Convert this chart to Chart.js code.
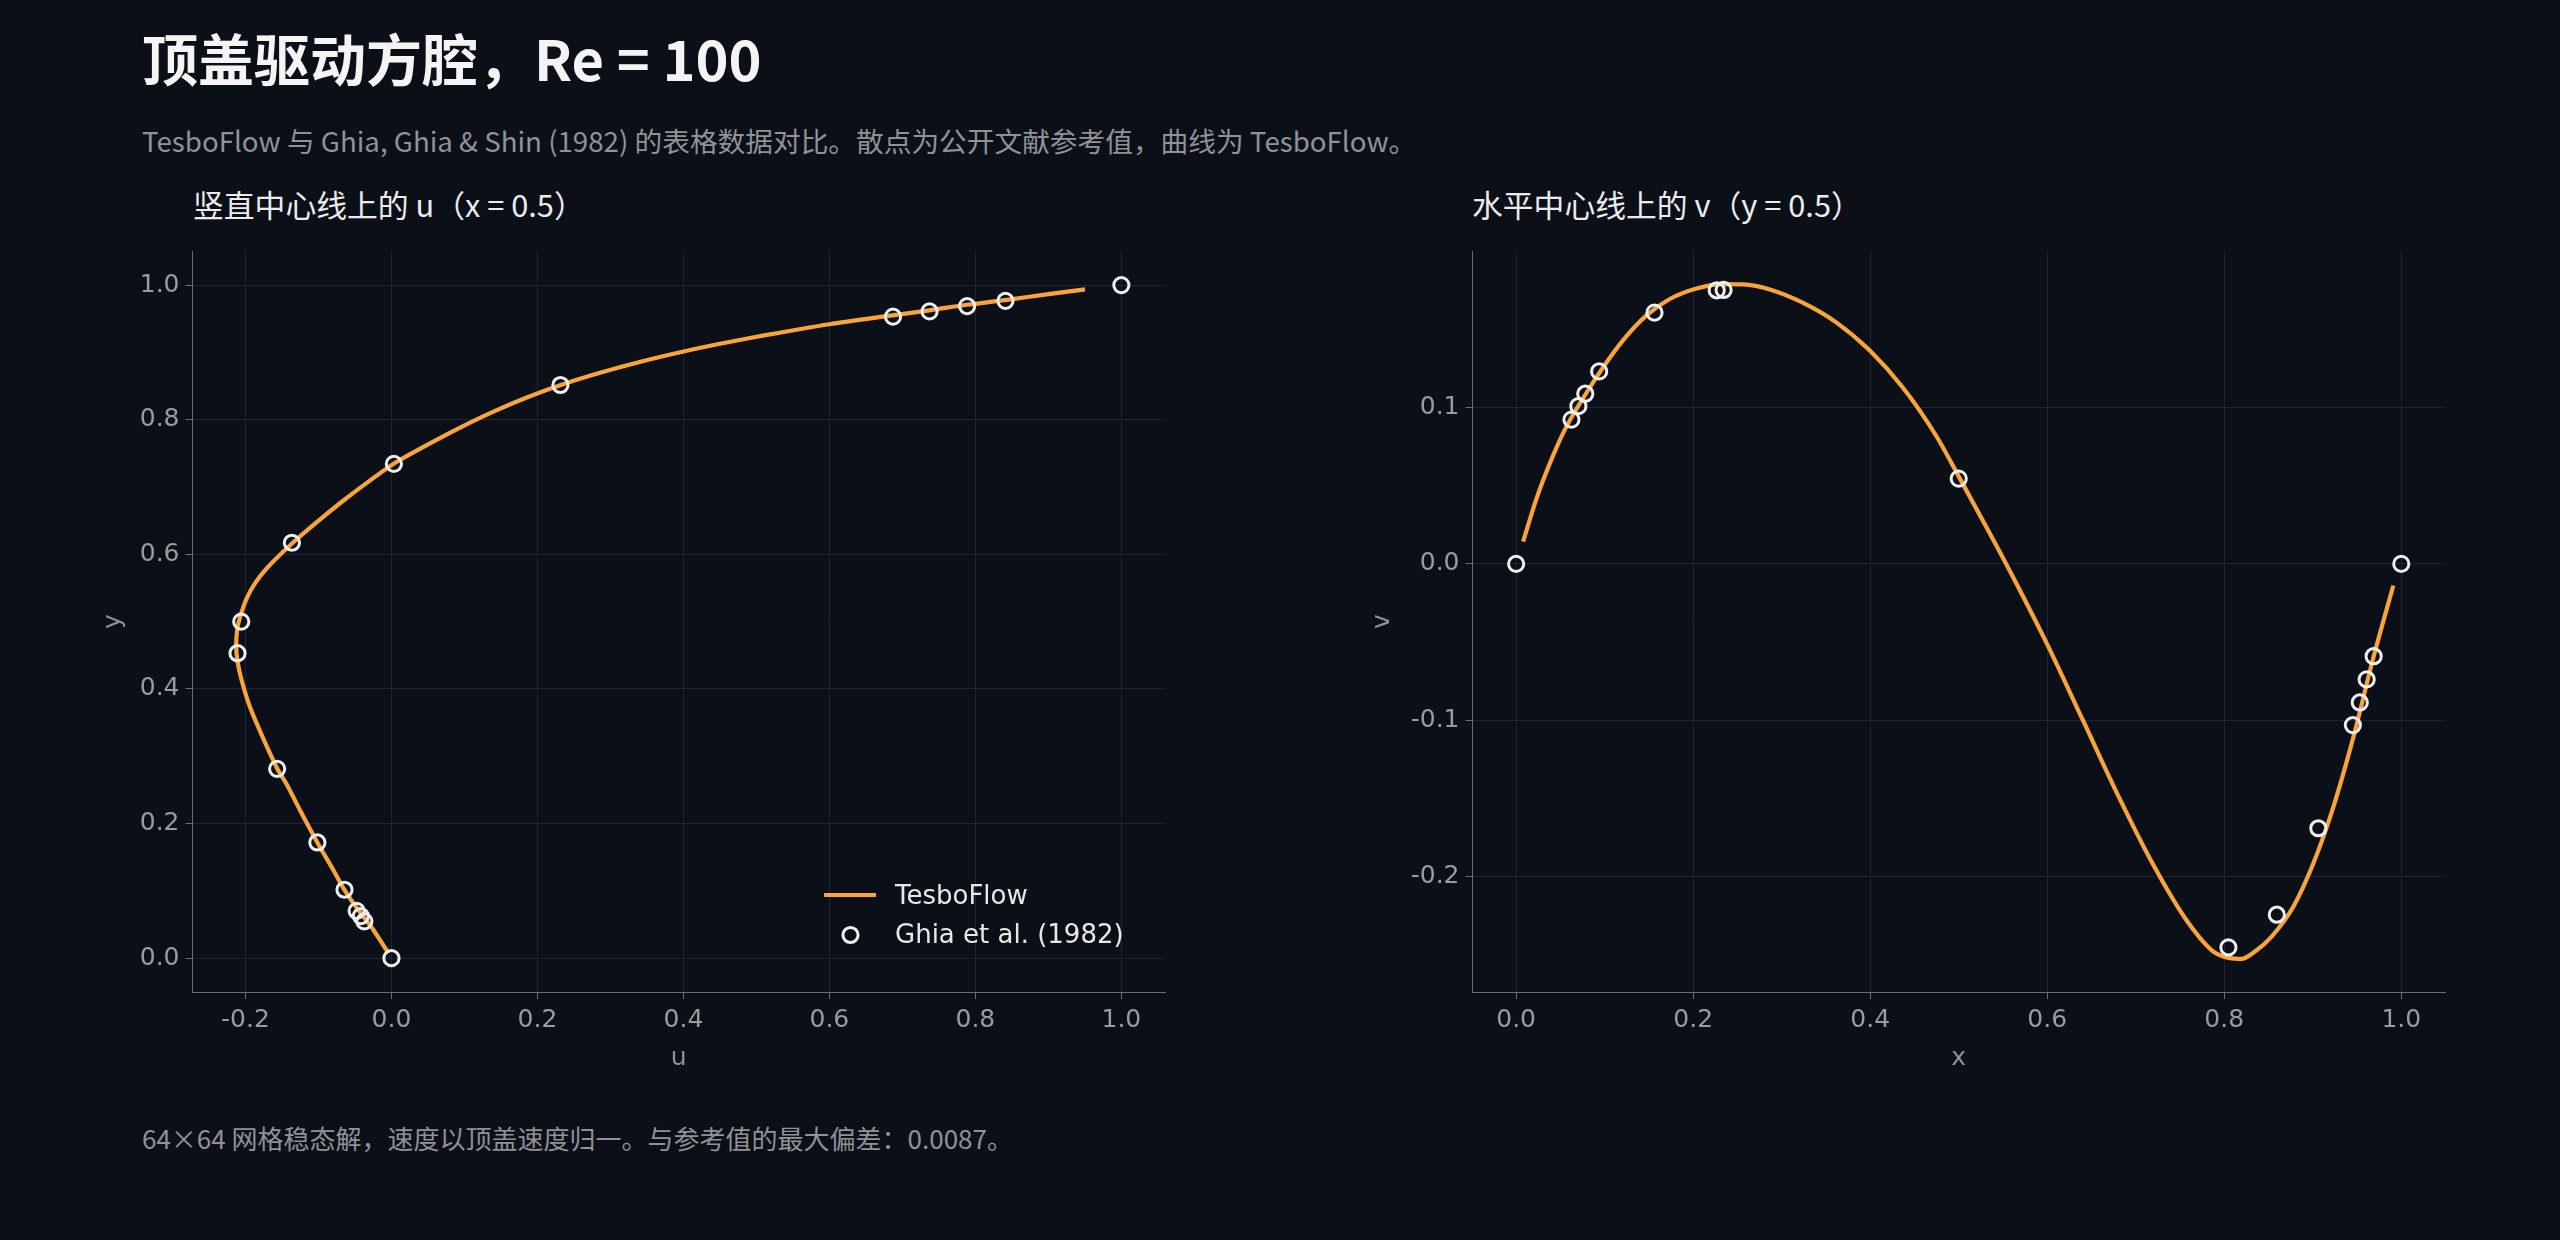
<!DOCTYPE html>
<html>
<head>
<meta charset="utf-8">
<script src="https://cdn.jsdelivr.net/npm/chart.js@4.4.1/dist/chart.umd.min.js"></script>
<style>
html, body { margin: 0; padding: 0; background: #0b0f17; width: 2560px; height: 1240px; overflow: hidden; }
.txt { position: absolute; white-space: nowrap; font-family: "Noto Sans CJK SC", sans-serif; line-height: 1; }
#title { left: 142px; top: 29px; font-size: 56px; font-weight: 700; color: #f4f4f4; }
#subtitle { left: 142px; top: 127px; font-size: 27.7px; color: #8f9297; }
.ctitle { top: 189px; font-size: 30.8px; color: #ececec; }
#footer { left: 142px; top: 1125px; font-size: 26px; color: #8f9297; }
.box { position: absolute; top: 230px; width: 1280px; height: 850px; }
</style>
</head>
<body>
<div id="title" class="txt">顶盖驱动方腔，Re = 100</div>
<div id="subtitle" class="txt">TesboFlow 与 Ghia, Ghia &amp; Shin (1982) 的表格数据对比。散点为公开文献参考值，曲线为 TesboFlow。</div>
<div class="txt ctitle" style="left:193px">竖直中心线上的 u（x = 0.5）</div>
<div class="txt ctitle" style="left:1472px">水平中心线上的 v（y = 0.5）</div>
<div class="box" style="left:0"><canvas id="uChart" width="1280" height="850"></canvas></div>
<div class="box" style="left:1280px"><canvas id="vChart" width="1280" height="850"></canvas></div>
<div id="footer" class="txt">64×64 网格稳态解，速度以顶盖速度归一。与参考值的最大偏差：0.0087。</div>

<script>
// Ghia et al. (1982), Re = 100 — u on the vertical centreline
const ghiaY = [1.0000, 0.9766, 0.9688, 0.9609, 0.9531, 0.8516, 0.7344, 0.6172, 0.5000, 0.4531, 0.2813, 0.1719, 0.1016, 0.0703, 0.0625, 0.0547, 0.0000];
const ghiaU = [1.0, 0.84123, 0.78871, 0.73722, 0.68717, 0.23151, 0.00332, -0.13641, -0.20581, -0.21090, -0.15662, -0.10150, -0.06434, -0.04775, -0.04192, -0.03717, 0.0];

// Ghia et al. (1982), Re = 100 — v on the horizontal centreline
const ghiaX = [1.0000, 0.9688, 0.9609, 0.9531, 0.9453, 0.9063, 0.8594, 0.8047, 0.5000, 0.2344, 0.2266, 0.1563, 0.0938, 0.0781, 0.0703, 0.0625, 0.0000];
const ghiaV = [0.0, -0.05906, -0.07391, -0.08864, -0.10313, -0.16914, -0.22445, -0.24533, 0.05454, 0.17527, 0.17507, 0.16077, 0.12317, 0.10890, 0.10091, 0.09233, 0.0];

// TesboFlow curves
const simY = [0.0074, 0.0419, 0.0616, 0.0814, 0.1021, 0.1307, 0.1716, 0.2194, 0.2579, 0.2811, 0.3254, 0.3723, 0.4117, 0.4413, 0.4660, 0.4906, 0.5104, 0.5350, 0.5572, 0.5794, 0.6168, 0.6479, 0.6800, 0.7062, 0.7353, 0.7623, 0.7883, 0.8120, 0.8330, 0.8513, 0.8697, 0.8872, 0.9014, 0.9129, 0.9260, 0.9419, 0.9550, 0.9625, 0.9709, 0.9778, 0.9862, 0.9936];
const simU = [-0.0041, -0.0247, -0.0384, -0.0521, -0.0648, -0.0795, -0.1014, -0.1251, -0.1434, -0.1562, -0.1753, -0.1936, -0.2050, -0.2110, -0.2128, -0.2110, -0.2064, -0.1982, -0.1868, -0.1708, -0.1356, -0.1023, -0.0658, -0.0338, 0.0041, 0.0484, 0.0941, 0.1397, 0.1854, 0.2311, 0.2858, 0.3452, 0.4000, 0.4502, 0.5142, 0.6000, 0.6863, 0.7370, 0.7881, 0.8406, 0.8977, 0.9502];

const simX = [0.0078, 0.0230, 0.0418, 0.0569, 0.0795, 0.0983, 0.1209, 0.1473, 0.1736, 0.2038, 0.2339, 0.2565, 0.2866, 0.3243, 0.3620, 0.3996, 0.4373, 0.4750, 0.5000, 0.5352, 0.5578, 0.5992, 0.6407, 0.6821, 0.7198, 0.7574, 0.7876, 0.8064, 0.8196, 0.8347, 0.8535, 0.8780, 0.9006, 0.9232, 0.9458, 0.9684, 0.9910];
const simV = [0.0142, 0.0418, 0.0694, 0.0880, 0.1095, 0.1258, 0.1432, 0.1590, 0.1695, 0.1762, 0.1790, 0.1788, 0.1756, 0.1670, 0.1544, 0.1365, 0.1125, 0.0815, 0.0560, 0.0195, -0.0045, -0.0505, -0.1005, -0.1505, -0.1925, -0.2280, -0.2480, -0.2522, -0.2527, -0.2480, -0.2384, -0.2193, -0.1917, -0.1556, -0.1110, -0.0601, -0.0138];

// tick labels
const uTicks = [-0.2, 0.0, 0.2, 0.4, 0.6, 0.8, 1.0];
const yTicks = [0.0, 0.2, 0.4, 0.6, 0.8, 1.0];
const xTicks = [0.0, 0.2, 0.4, 0.6, 0.8, 1.0];
const vTicks = [-0.2, -0.1, 0.0, 0.1];

const ORANGE = '#f9a43a';
const RING = '#eeeeee';
const TICK_TXT = '#999b9f';
const GRID = '#1f2430';
const AXIS = '#6a6d73';

const pairs = (xs, ys) => xs.map((x, i) => ({ x: x, y: ys[i] }));

function axis(ticks, min, max, title, titlePad, isY) {
    return {
        type: 'linear',
        min: min,
        max: max,
        afterBuildTicks: s => { s.ticks = ticks.map(v => ({ value: v })); },
        afterFit: s => { if (isY) s.width = 192.5; else s.height = 88; },
        ticks: {
            color: TICK_TXT,
            font: { family: 'DejaVu Sans', size: 25 },
            padding: 6,
            callback: v => v.toFixed(1)
        },
        grid: { color: GRID, lineWidth: 1, tickColor: AXIS, tickLength: 7 },
        border: { display: true, color: AXIS, width: 1 },
        title: {
            display: true,
            text: title,
            color: '#8e9196',
            font: { family: 'DejaVu Sans', size: 25 },
            padding: titlePad
        }
    };
}

// legend drawn inside the plot, lower right
const insideLegend = {
    id: 'insideLegend',
    afterDraw(chart) {
        if (!chart.options.plugins.insideLegend) return;
        const { ctx, chartArea: a } = chart;
        const line = chart.data.datasets[1];
        const dots = chart.data.datasets[0];
        ctx.save();
        ctx.font = '26px "DejaVu Sans"';
        ctx.fillStyle = '#e8e8e8';
        ctx.textBaseline = 'alphabetic';
        ctx.strokeStyle = ORANGE;
        ctx.lineWidth = 4.2;
        ctx.beginPath();
        ctx.moveTo(a.right - 341, a.bottom - 97);
        ctx.lineTo(a.right - 289, a.bottom - 97);
        ctx.stroke();
        ctx.fillText(line.label, a.right - 270, a.bottom - 88);
        ctx.strokeStyle = RING;
        ctx.lineWidth = 3;
        ctx.beginPath();
        ctx.arc(a.right - 314.5, a.bottom - 57, 7.6, 0, Math.PI * 2);
        ctx.stroke();
        ctx.fillText(dots.label, a.right - 270, a.bottom - 48.7);
        ctx.restore();
    }
};

function makeChart(id, refPts, simPts, xs, ys, legend, curve) {
    return new Chart(document.getElementById(id).getContext('2d'), {
        type: 'scatter',
        data: {
            datasets: [{
                label: 'Ghia et al. (1982)',
                data: refPts,
                order: 0,
                pointStyle: 'circle',
                pointRadius: 7.6,
                pointBorderWidth: 3,
                pointBorderColor: RING,
                pointBackgroundColor: 'rgba(0,0,0,0)',
                showLine: false
            }, Object.assign({
                label: 'TesboFlow',
                data: simPts,
                order: 1,
                showLine: true,
                borderColor: ORANGE,
                borderWidth: 4.2,
                pointRadius: 0
            }, curve)]
        },
        options: {
            responsive: false,
            animation: false,
            devicePixelRatio: 1,
            layout: { padding: { top: 18, right: 115, bottom: 0, left: 0 } },
            scales: { x: xs, y: ys },
            plugins: {
                legend: { display: false },
                tooltip: { enabled: false },
                insideLegend: legend
            }
        },
        plugins: [insideLegend]
    });
}

makeChart('uChart', pairs(ghiaU, ghiaY), pairs(simU, simY),
    axis(uTicks, -0.2726, 1.0598, 'u', { top: 0, bottom: 7 }, false),
    axis(yTicks, -0.0503, 1.0507, 'y', { top: 98.7, bottom: 0 }, true),
    true, { tension: 0.25 });

makeChart('vChart', pairs(ghiaX, ghiaV), pairs(simX, simV),
    axis(xTicks, -0.0493, 1.0494, 'x', { top: 0, bottom: 7 }, false),
    axis(vTicks, -0.2739, 0.2002, 'v', { top: 87.8, bottom: 0 }, true),
    false, { cubicInterpolationMode: 'monotone' });
</script>
</body>
</html>
